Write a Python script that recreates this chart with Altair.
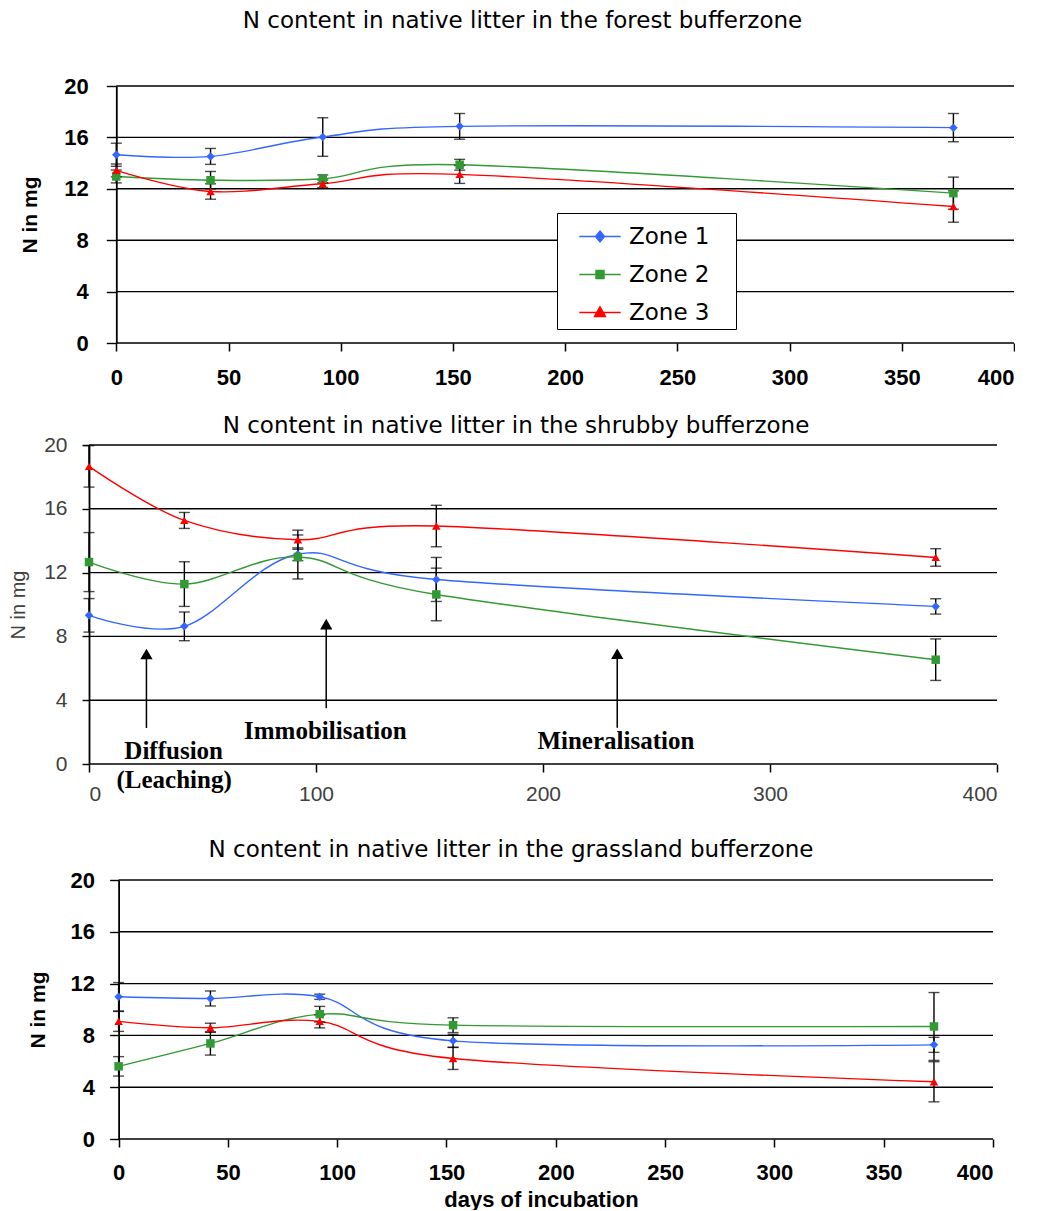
import altair as alt
import pandas as pd

# ---------------- data ----------------
days = [0, 42, 92, 153, 373]
zones = ["Zone 1", "Zone 2", "Zone 3"]
zone_colors = ["#3366ff", "#339933", "#ff0000"]
zone_shapes = ["diamond", "square", "triangle-up"]
y_ticks = [0, 4, 8, 12, 16, 20]

forest_zone1 = [14.65, 14.52, 16.03, 16.86, 16.76]
forest_zone1_err = [0.9, 0.62, 1.5, 1.0, 1.1]
forest_zone2 = [12.96, 12.67, 12.78, 13.87, 11.66]
forest_zone2_err = [0.5, 0.68, 0.3, 0.42, 1.25]
forest_zone3 = [13.43, 11.79, 12.39, 13.12, 10.62]
forest_zone3_err = [0.5, 0.6, 0.3, 0.7, 1.22]

shrub_zone1 = [9.32, 8.63, 13.15, 11.57, 9.88]
shrub_zone1_err = [1.05, 0.9, 0.4, 1.38, 0.48]
shrub_zone2 = [12.66, 11.28, 12.98, 10.63, 6.54]
shrub_zone2_err = [1.85, 1.4, 1.38, 1.65, 1.3]
shrub_zone3 = [18.66, 15.27, 14.06, 14.92, 12.95]
shrub_zone3_err = [1.3, 0.5, 0.6, 1.3, 0.55]

grass_zone1 = [10.98, 10.85, 10.98, 7.58, 7.27]
grass_zone1_err = [1.1, 0.58, 0.2, 0.5, 0.58]
grass_zone2 = [5.61, 7.38, 9.64, 8.79, 8.69]
grass_zone2_err = [0.75, 0.9, 0.6, 0.57, 2.62]
grass_zone3 = [9.08, 8.59, 9.08, 6.22, 4.42]
grass_zone3_err = [0.77, 0.35, 0.5, 0.85, 1.55]

# annotations of the shrubby panel (days, N in mg)
arrow_day = [25.3, 104.5, 232.7]
arrow_base = [2.26, 3.5, 2.28]
arrow_head = [6.9, 8.77, 6.91]
note_text = ["Diffusion", "(Leaching)", "Immobilisation", "Mineralisation"]
note_day = [37.3, 37.5, 104.1, 232.1]
note_val = [0.79, -0.98, 2.09, 1.42]

# legend symbols: line segment with the zone marker
legend_paths = [
    "M-1.15,0H1.15M0,-0.3L0.25,0L0,0.3L-0.25,0Z",
    "M-1.15,0H1.15M-0.22,-0.22H0.22V0.22H-0.22Z",
    "M-1.15,0H1.15M0,-0.32L0.3,0.22H-0.3Z",
]


def long_df(series, errs):
    rows = []
    for z, vals, ee in zip(zones, series, errs):
        for d, v, e in zip(days, vals, ee):
            rows.append({"day": d, "zone": z, "value": v, "err": e})
    return pd.DataFrame(rows)


forest_df = long_df([forest_zone1, forest_zone2, forest_zone3],
                    [forest_zone1_err, forest_zone2_err, forest_zone3_err])
shrub_df = long_df([shrub_zone1, shrub_zone2, shrub_zone3],
                   [shrub_zone1_err, shrub_zone2_err, shrub_zone3_err])
grass_df = long_df([grass_zone1, grass_zone2, grass_zone3],
                   [grass_zone1_err, grass_zone2_err, grass_zone3_err])
arrow_df = pd.DataFrame({"day": arrow_day, "base": arrow_base, "head": arrow_head})
note_df = pd.DataFrame({"day": note_day, "val": note_val, "text": note_text})
grid_df = pd.DataFrame({"g": y_ticks})

# trailing blank room in the legend box (kept from trimming by a zero-width char)
LEG_PAD = "\u00a0" * 3 + "\u200b"


def make_panel(df, title_text, title_dx, width, height, xmin, yoffset, step, bold,
               legend, xtitle, title_offset, ytick, ylabpad, ytitlepad,
               xlabpad, extra_bottom=0, notes=False):
    lab_weight = "bold" if bold else "normal"
    lab_color = "black" if bold else "#404040"
    lab_size = 22 if bold else 21
    x_axis_kw = dict(values=list(range(0, 401, step)), grid=False, domain=False,
                     labelFont="Liberation Sans", labelFontWeight=lab_weight,
                     labelFontSize=lab_size, labelColor=lab_color,
                     labelPadding=xlabpad, tickSize=8,
                     tickColor="black", tickWidth=1.5,
                     titleFont="Liberation Sans",
                     titleFontWeight="bold", titleFontSize=22,
                     titleColor="black", titlePadding=6)
    x_axis_kw["title"] = xtitle if xtitle else None
    xs = alt.Scale(domain=[xmin, 400], nice=False, zero=False)

    def X(field="day:Q"):
        return alt.X(field, scale=xs, axis=alt.Axis(**x_axis_kw))

    ys = alt.Scale(domain=[0, 20], nice=False, zero=False)
    y_axis = alt.Axis(values=y_ticks, grid=False, offset=yoffset,
                      tickSize=ytick, tickColor="black", tickWidth=1.4,
                      domainColor="black", domainWidth=1.8,
                      labelFont="Liberation Sans", labelFontWeight=lab_weight,
                      labelFontSize=lab_size, labelColor=lab_color,
                      labelPadding=ylabpad,
                      title="N in mg", titleFont="Liberation Sans",
                      titleFontWeight=lab_weight,
                      titleFontSize=21 if bold else 20, titleColor=lab_color,
                      titlePadding=ytitlepad)

    def Y(field):
        return alt.Y(field, scale=ys, axis=y_axis)

    if legend:
        leg = alt.Legend(
            title=None, orient="none", legendX=468, legendY=127, padding=4.5,
            strokeColor="black", fillColor="white", symbolSize=1296,
            symbolStrokeWidth=1.5, symbolOpacity=1,
            labelFont="DejaVu Sans", labelFontSize=23, labelColor="black",
            labelExpr="datum.label + '" + LEG_PAD + "'",
            labelOffset=10, symbolOffset=19.5, rowPadding=7, labelLimit=300)
    else:
        leg = None
    cscale = alt.Scale(domain=zones, range=zone_colors)
    color = alt.Color("zone:N", scale=cscale, legend=leg)

    base = alt.Chart(df).transform_calculate(
        lo="datum.value - datum.err", hi="datum.value + datum.err")

    grid = alt.Chart(grid_df).mark_rule(color="black", strokeWidth=1.4).encode(
        x=alt.XDatum(0, scale=xs, axis=alt.Axis(**x_axis_kw)),
        x2=alt.X2Datum(400), y=Y("g:Q"))
    line = base.mark_line(interpolate="cardinal", strokeWidth=1.4).encode(
        x=X(), y=Y("value:Q"), color=color)
    bars = base.mark_rule(color="black", strokeWidth=1.4).encode(
        x=X(), y=Y("lo:Q"), y2="hi:Q")
    cap_lo = base.mark_tick(orient="horizontal", size=11, thickness=1.4,
                            color="black").encode(x=X(), y=Y("lo:Q"))
    cap_hi = base.mark_tick(orient="horizontal", size=11, thickness=1.4,
                            color="black").encode(x=X(), y=Y("hi:Q"))
    layers = [grid, line, bars, cap_lo, cap_hi]
    if extra_bottom:
        layers.append(alt.Chart(pd.DataFrame({"h": [0]})).mark_rule(opacity=0).encode(
            x=alt.value(0), y=alt.value(0), y2=alt.value(height + extra_bottom)))
    for z, shp in zip(zones, zone_shapes):
        layers.append(base.transform_filter(alt.datum.zone == z).mark_point(
            shape=shp, filled=True, opacity=1, size=72).encode(
            x=X(), y=Y("value:Q"), color=color))
    if legend:
        layers.append(base.mark_point(filled=True, size=0, strokeWidth=1.5).encode(
            x=X(), y=Y("value:Q"), color=color,
            stroke=alt.Stroke("zone:N", scale=cscale, legend=leg),
            shape=alt.Shape("zone:N", scale=alt.Scale(domain=zones, range=legend_paths),
                            legend=leg)))
    if notes:
        ar = alt.Chart(arrow_df)
        layers.append(ar.mark_rule(color="black", strokeWidth=1.5).encode(
            x=X(), y=Y("base:Q"), y2="head:Q"))
        layers.append(ar.mark_point(shape="triangle-up", filled=True, opacity=1,
                                    color="black", size=150).encode(
            x=X(), y=Y("head:Q")))
        layers.append(alt.Chart(note_df).mark_text(
            font="Liberation Serif", fontWeight="bold", fontSize=25,
            color="black", align="center", baseline="middle").encode(
            x=X(), y=Y("val:Q"), text="text:N"))
    return alt.layer(*layers).properties(
        width=width, height=height,
        title=alt.TitleParams(text=title_text, font="DejaVu Sans", fontSize=23,
                              fontWeight="normal", color="black", anchor="middle",
                              frame="group", dx=title_dx, offset=title_offset))


p1 = make_panel(forest_df, "N content in native litter in the forest bufferzone", -29,
                925, 257, -12.16, -27.3, 50, True, True, None, 42,
                ytick=10, ylabpad=18, ytitlepad=23, xlabpad=16)
p2 = make_panel(shrub_df, "N content in native litter in the shrubby bufferzone", -27,
                908, 319, 0, 0, 100, False, False, None, -4,
                ytick=7, ylabpad=15, ytitlepad=15, xlabpad=11, extra_bottom=48,
                notes=True)
p3 = make_panel(grass_df, "N content in native litter in the grassland bufferzone", -30,
                904, 259, -13.54, -29.6, 50, True, False, "days of incubation", 7,
                ytick=9, ylabpad=15, ytitlepad=22, xlabpad=15)

chart = alt.vconcat(p1, p2, p3, spacing=27).resolve_scale(
    color="independent", stroke="independent", shape="independent").configure_view(
    stroke=None).properties(padding={"left": 0, "top": 2, "right": 0, "bottom": 0})

chart.save("out.html", embed_options={"renderer": "svg", "actions": False})
